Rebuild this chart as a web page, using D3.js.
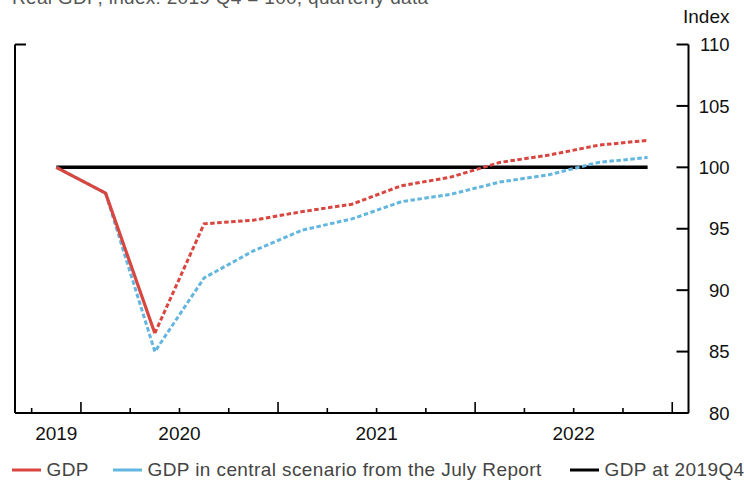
<!DOCTYPE html>
<html>
<head>
<meta charset="utf-8">
<script src="https://cdn.jsdelivr.net/npm/d3@7"></script>
<style>
  body { margin: 0; background: #fff; }
  svg { display: block; font-family: "Liberation Sans", Arial, sans-serif; }
</style>
</head>
<body>
<svg id="chart" width="744" height="481"></svg>
<script>
// Quarters from 2019Q4 to 2022Q4
const quarters = ["2019Q4","2020Q1","2020Q2","2020Q3","2020Q4","2021Q1","2021Q2","2021Q3","2021Q4","2022Q1","2022Q2","2022Q3","2022Q4"];
const gdp = [100, 97.9, 86.5, 95.4, 95.7, 96.4, 97.0, 98.5, 99.2, 100.4, 101.0, 101.8, 102.2];
const gdpJuly = [100, 97.9, 85.0, 91.0, 93.2, 94.9, 95.8, 97.2, 97.8, 98.8, 99.4, 100.4, 100.8];
const gdp2019Q4 = [100, 100, 100, 100, 100, 100, 100, 100, 100, 100, 100, 100, 100];
const gdpSolidCount = 3; // first three points of GDP are outturns (solid)
const yTicks = [80, 85, 90, 95, 100, 105, 110];
const years = ["2019", "2020", "2021", "2022"];
const yearStart = [-0.5, 0.5, 4.5, 8.5];   // quarter index where each year's span begins
const yearEnd   = [0.5, 4.5, 8.5, 12.5];
const legendLabels = ["GDP", "GDP in central scenario from the July Report", "GDP at 2019Q4"];
const title = "Real GDP, index: 2019 Q4 = 100, quarterly data";

(function () {
const colors = { red: "#d8463f", blue: "#62b6df", black: "#000" };

const svg = d3.select("#chart");
const mLeft = 15, mRight = 688.5, mTop = 44.5, mBottom = 413;

const x = d3.scaleLinear().domain([-0.838, 12.83]).range([mLeft, mRight]);
const y = d3.scaleLinear().domain([80, 110]).range([mBottom, mTop]);

// title (partly cut off at top, as in the reference)
svg.append("text").attr("x", 12).attr("y", 4).attr("font-size", 19)
  .attr("letter-spacing", 0.3).attr("fill", "#555").text(title);

// Right axis
const gy = svg.append("g").attr("transform", `translate(${mRight},0)`);
gy.append("line").attr("x1", 0).attr("x2", 0).attr("y1", mTop).attr("y2", mBottom).attr("stroke", "#000").attr("stroke-width", 2);
gy.selectAll("line.tk").data(yTicks).join("line").attr("class", "tk")
  .attr("x1", -12).attr("x2", 0).attr("y1", d => y(d)).attr("y2", d => y(d))
  .attr("stroke", "#000").attr("stroke-width", 2);
gy.selectAll("text.tl").data(yTicks).join("text").attr("class", "tl")
  .attr("x", 729.5 - mRight).attr("y", d => y(d)).attr("dy", "0.36em")
  .attr("text-anchor", "end").attr("font-size", 18.5).attr("fill", "#111")
  .text(d => d);
svg.append("text").attr("x", 729.5).attr("y", 23).attr("text-anchor", "end")
  .attr("font-size", 19).attr("fill", "#111").text("Index");

// Left axis line with end ticks
svg.append("line").attr("x1", mLeft).attr("x2", mLeft).attr("y1", mTop).attr("y2", mBottom)
  .attr("stroke", "#000").attr("stroke-width", 2);
svg.selectAll("line.ltk").data([80, 110]).join("line").attr("class", "ltk")
  .attr("x1", mLeft).attr("x2", mLeft + 11).attr("y1", d => y(d)).attr("y2", d => y(d))
  .attr("stroke", "#000").attr("stroke-width", 2);

// Bottom axis
svg.append("line").attr("x1", mLeft).attr("x2", mRight).attr("y1", mBottom).attr("y2", mBottom)
  .attr("stroke", "#000").attr("stroke-width", 2);
const boundaries = d3.range(-0.5, 12.6, 1);
const yearBounds = new Set(yearEnd);
svg.selectAll("line.xtk").data(boundaries).join("line").attr("class", "xtk")
  .attr("x1", d => x(d)).attr("x2", d => x(d))
  .attr("y1", mBottom).attr("y2", d => yearBounds.has(d) ? mBottom - 11 : mBottom - 5)
  .attr("stroke", "#000").attr("stroke-width", 1.6);
svg.selectAll("text.yr").data(years).join("text").attr("class", "yr")
  .attr("x", (d, i) => x((yearStart[i] + yearEnd[i]) / 2)).attr("y", 439.5)
  .attr("text-anchor", "middle").attr("font-size", 19).attr("fill", "#111")
  .text(d => d);

// Lines
const line = d3.line().x(d => x(d.i)).y(d => y(d.v));
const toPts = arr => arr.map((v, i) => ({ i, v }));

svg.append("path").datum(toPts(gdp2019Q4)).attr("d", line)
  .attr("fill", "none").attr("stroke", colors.black).attr("stroke-width", 3.5);

svg.append("path").datum(toPts(gdpJuly)).attr("d", line)
  .attr("fill", "none").attr("stroke", colors.blue).attr("stroke-width", 3)
  .attr("stroke-dasharray", "4.5,2.5");

const gdpPts = toPts(gdp);
svg.append("path").datum(gdpPts.slice(gdpSolidCount - 1)).attr("d", line)
  .attr("fill", "none").attr("stroke", colors.red).attr("stroke-width", 3)
  .attr("stroke-dasharray", "4.5,2.5");
svg.append("path").datum(gdpPts.slice(0, gdpSolidCount)).attr("d", line)
  .attr("fill", "none").attr("stroke", colors.red).attr("stroke-width", 3.2)
  .attr("stroke-linejoin", "round");

// Legend
const legendX = [12, 113, 570];
const legendColors = [colors.red, colors.blue, colors.black];
const lg = svg.append("g");
legendLabels.forEach((lab, k) => {
  lg.append("line").attr("x1", legendX[k]).attr("x2", legendX[k] + 29)
    .attr("y1", 470).attr("y2", 470).attr("stroke", legendColors[k]).attr("stroke-width", 3);
  lg.append("text").attr("x", legendX[k] + 34.5).attr("y", 476)
    .attr("font-size", 19).attr("letter-spacing", 0.4).attr("fill", "#444").text(lab);
});
})();
</script>
</body>
</html>
